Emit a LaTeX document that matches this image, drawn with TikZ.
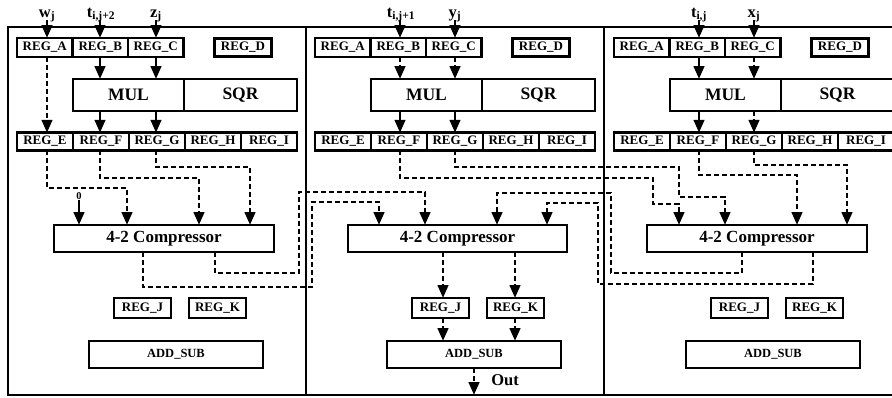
\documentclass[tikz,border=0pt]{standalone}
\usepackage{fontspec}
\setmainfont{Liberation Serif}
\usetikzlibrary{arrows.meta}
\begin{document}
\begin{tikzpicture}[x=1pt,y=-1pt,
  box/.style={draw, line width=2.9pt, inner sep=0pt, outer sep=0pt, font=\bfseries\fontsize{13}{13}\selectfont},
  reg/.style={box, minimum height=19pt},
  regb/.style={box, minimum height=17.5pt},
  big/.style={box, minimum height=32pt, font=\bfseries\fontsize{17.5}{17.5}\selectfont},
  comp/.style={box, minimum height=27pt, minimum width=220pt, font=\bfseries\fontsize{17}{17}\selectfont},
  addsub/.style={box, minimum height=27pt, minimum width=174pt, font=\bfseries\fontsize{12.5}{12.5}\selectfont},
  tip/.style={-{Triangle[length=13pt,width=10.5pt]}},
  sarr/.style={line width=2.9pt, tip},
  darr/.style={line width=2.9pt, dash pattern=on 5pt off 3pt, tip},
  frameline/.style={line width=1.4pt},
  lab/.style={font=\bfseries\fontsize{16.5}{16.5}\selectfont, inner sep=0pt, anchor=base}]
\useasboundingbox (0,0) rectangle (892,397);
\clip (0,0) rectangle (892,397);

% panel frames
\draw[frameline] (900,27) -- (8,27) -- (8,395) -- (900,395);
\draw[frameline] (306,27) -- (306,395);
\draw[frameline] (604,27) -- (604,395);

% common panel contents
\foreach \o/\p in {0/L,298/M,597/R}{
  \node[reg, minimum width=55.5pt] (\p A) at (\o+44.75,47.5) {REG\_A};
  \node[reg, minimum width=55.5pt] (\p B) at (\o+100.25,47.5) {REG\_B};
  \node[reg, minimum width=55.5pt] (\p C) at (\o+155.75,47.5) {REG\_C};
  \node[regb, minimum width=57pt] (\p D) at (\o+243,47.5) {REG\_D};
  \node[big, minimum width=111pt] (\p MUL) at (\o+128.5,95) {MUL};
  \node[big, minimum width=113pt] (\p SQR) at (\o+240.5,95) {SQR};
  \node[regb, minimum width=56pt] (\p E) at (\o+45,141.5) {REG\_E};
  \node[regb, minimum width=56pt] (\p F) at (\o+101,141.5) {REG\_F};
  \node[regb, minimum width=56pt] (\p G) at (\o+157,141.5) {REG\_G};
  \node[regb, minimum width=56pt] (\p H) at (\o+213,141.5) {REG\_H};
  \node[regb, minimum width=56pt] (\p I) at (\o+269,141.5) {REG\_I};
  \node[box, minimum width=57pt, minimum height=20pt] (\p J) at (\o+142.5,308) {REG\_J};
  \node[box, minimum width=57pt, minimum height=20pt] (\p K) at (\o+217.5,308) {REG\_K};
  \node[addsub] (\p AS) at (\o+176,354.5) {ADD\_SUB};
}

% compressors
\node[comp] (LComp) at (164,238.5) {4-2 Compressor};
\node[comp, minimum width=219pt] (MComp) at (457.5,238.5) {4-2 Compressor};
\node[comp] (RComp) at (757,238.5) {4-2 Compressor};

% compressor ports
\coordinate (Li1) at (79,225);  \coordinate (Li2) at (127,225);
\coordinate (Li3) at (199,225); \coordinate (Li4) at (250,225);
\coordinate (Mi1) at (379,225); \coordinate (Mi2) at (425,225);
\coordinate (Mi3) at (497,225); \coordinate (Mi4) at (547,225);
\coordinate (Ri1) at (679,225); \coordinate (Ri2) at (725,225);
\coordinate (Ri3) at (797,225); \coordinate (Ri4) at (847,225);
\coordinate (Lo1) at (143,252); \coordinate (Lo2) at (215,252);
\coordinate (Mo1) at (443,252); \coordinate (Mo2) at (515,252);
\coordinate (Ro1) at (742,252); \coordinate (Ro2) at (813,252);

% inputs
\node[lab] (inw) at (47,17) {w\textsubscript{j}};
\node[lab] (int2) at (101,17) {t\textsubscript{i,j+2}};
\node[lab] (inz) at (156,17) {z\textsubscript{j}};
\node[lab] (int1) at (401,17) {t\textsubscript{i,j+1}};
\node[lab] (iny) at (455,17) {y\textsubscript{j}};
\node[lab] (int0) at (699,17) {t\textsubscript{i,j}};
\node[lab] (inx) at (754,17) {x\textsubscript{j}};
\coordinate (aw) at (47,20);  \coordinate (at2) at (100,20); \coordinate (az) at (156,20);
\coordinate (at1) at (400,20); \coordinate (ay) at (455,20);
\coordinate (at0) at (699,20); \coordinate (ax) at (754,20);
\draw[sarr] (aw) -- (aw |- LA.north);
\draw[sarr] (at2) -- (at2 |- LB.north);
\draw[sarr] (az) -- (az |- LC.north);
\draw[sarr] (at1) -- (at1 |- MB.north);
\draw[sarr] (ay) -- (ay |- MC.north);
\draw[sarr] (at0) -- (at0 |- RB.north);
\draw[sarr] (ax) -- (ax |- RC.north);

% register -> multiplier -> register
\draw[sarr] (at2 |- LB.south) -- (at2 |- LMUL.north);
\draw[sarr] (az |- LC.south) -- (az |- LMUL.north);
\draw[sarr] (at2 |- LMUL.south) -- (at2 |- LF.north);
\draw[sarr] (az |- LMUL.south) -- (az |- LG.north);
\draw[darr] (aw |- LA.south) -- (aw |- LE.north);

\draw[darr] (at1 |- MB.south) -- (at1 |- MMUL.north);
\draw[darr] (ay |- MC.south) -- (ay |- MMUL.north);
\draw[sarr] (at1 |- MMUL.south) -- (at1 |- MF.north);
\draw[sarr] (ay |- MMUL.south) -- (ay |- MG.north);

\draw[sarr] (at0 |- RB.south) -- (at0 |- RMUL.north);
\draw[darr] (ax |- RC.south) -- (ax |- RMUL.north);
\draw[sarr] (at0 |- RMUL.south) -- (at0 |- RF.north);
\draw[darr] (ax |- RMUL.south) -- (ax |- RG.north);

% left panel wiring
\node[inner sep=0pt, font=\bfseries\fontsize{10.5}{10.5}\selectfont] (zero) at (79,196) {0};
\draw[sarr] (zero.south) -- (Li1);
\draw[darr] (aw |- LE.south) |- (127,188) -- (Li2);
\draw[darr] (at2 |- LF.south) |- (199,178) -- (Li3);
\draw[darr] (az |- LG.south) |- (250,167) -- (Li4);
\draw[darr] (Lo1) |- (312,287) |- (379,202) -- (Mi1);
\draw[darr] (Lo2) |- (299,273) |- (425,192) -- (Mi2);

% middle panel wiring
\draw[darr] (at1 |- MF.south) |- (653,178) |- (679,204) -- (Ri1);
\draw[darr] (ay |- MG.south) |- (679,167) |- (725,197) -- (Ri2);
\draw[darr] (Mo1) -- (Mo1 |- MJ.north);
\draw[darr] (Mo2) -- (Mo2 |- MK.north);
\draw[darr] (Mo1 |- MJ.south) -- (Mo1 |- MAS.north);
\draw[darr] (Mo2 |- MK.south) -- (Mo2 |- MAS.north);
\coordinate (out) at (474,395);
\draw[darr] (out |- MAS.south) -- (out);
\node[lab, anchor=center] (outlab) at (505,380) {Out};

% right panel wiring
\draw[darr] (at0 |- RF.south) |- (797,175) -- (Ri3);
\draw[darr] (ax |- RG.south) |- (847,165) -- (Ri4);
\draw[darr] (Ro1) |- (611,273) |- (497,193) -- (Mi3);
\draw[darr] (Ro2) |- (598,284) |- (547,203) -- (Mi4);
\end{tikzpicture}
\end{document}
